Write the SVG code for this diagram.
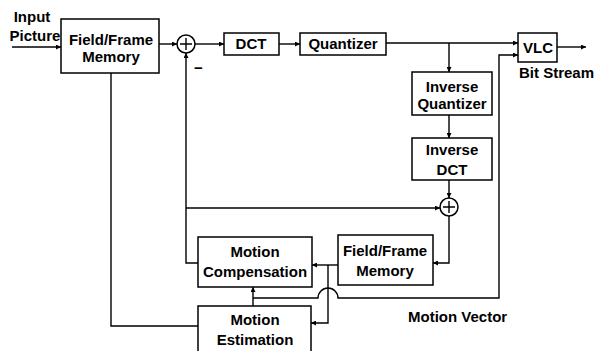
<svg xmlns="http://www.w3.org/2000/svg" width="594" height="351" viewBox="0 0 594 351">
<style>
.box{fill:#fff;stroke:#000;stroke-width:1.5}
.ln{fill:none;stroke:#000;stroke-width:1.4}
.ar{fill:none;stroke:#000;stroke-width:1.4;marker-end:url(#ah)}
text{font-family:"Liberation Sans",Arial,sans-serif;font-weight:bold;font-size:15px;fill:#000}
.c{text-anchor:middle}
</style>
<defs>
<marker id="ah" viewBox="0 0 10 10" refX="10" refY="5" markerWidth="5" markerHeight="5" markerUnits="userSpaceOnUse" orient="auto">
<path d="M0,0 L10,5 L0,10 z" fill="#000"/>
</marker>
</defs>
<rect width="594" height="351" fill="#fff"/>
<g id="connectors">
<path class="ar" d="M12,47 H61"/>
<path class="ar" d="M159,44 H177"/>
<path class="ar" d="M195,44 H224"/>
<path class="ar" d="M279,44 H300"/>
<path class="ar" d="M386,43 H518"/>
<path class="ar" d="M449,43 V72"/>
<path class="ar" d="M557,47 H586"/>
<path class="ar" d="M449,115 V138"/>
<path class="ar" d="M449,180 V198"/>
<path class="ar" d="M449,216 V263 H433"/>
<path class="ar" d="M338,265 H312"/>
<path class="ar" d="M328,265 V323 H311"/>
<path class="ar" d="M198,263 H186 V53"/>
<path class="ar" d="M186,208 H440"/>
<path class="ar" d="M253,306 V287"/>
<path class="ar" d="M253,298 H318 A10,10 0 0 1 338,298 H499 V55 H518"/>
<path class="ln" d="M111,73 V326 H198"/>
</g>
<g id="input-label">
<text class="c" x="32" y="22">Input</text>
<text class="c" x="35" y="41">Picture</text>
</g>
<g id="ffm1">
<rect class="box" x="61" y="19" width="98" height="54"/>
<text class="c" x="111" y="45">Field/Frame</text>
<text class="c" x="111" y="62">Memory</text>
</g>
<g id="sum1">
<circle class="box" cx="186" cy="44" r="9"/>
<path class="ln" d="M180,44 H192 M186,38 V50"/>
<text x="194" y="73">−</text>
</g>
<g id="dct">
<rect class="box" x="224" y="33" width="55" height="22"/>
<text class="c" x="251" y="49">DCT</text>
</g>
<g id="quantizer">
<rect class="box" x="300" y="33" width="86" height="22"/>
<text class="c" x="343" y="49">Quantizer</text>
</g>
<g id="vlc">
<rect class="box" x="518" y="33" width="39" height="29"/>
<text class="c" x="538" y="53">VLC</text>
<text x="519" y="78">Bit Stream</text>
</g>
<g id="iq">
<rect class="box" x="412" y="72" width="80" height="43"/>
<text class="c" x="452" y="92">Inverse</text>
<text class="c" x="452" y="109">Quantizer</text>
</g>
<g id="idct">
<rect class="box" x="412" y="138" width="80" height="42"/>
<text class="c" x="452" y="155">Inverse</text>
<text class="c" x="452" y="175">DCT</text>
</g>
<g id="sum2">
<circle class="box" cx="449" cy="207" r="9"/>
<path class="ln" d="M443,207 H455 M449,201 V213"/>
</g>
<g id="ffm2">
<rect class="box" x="338" y="235" width="95" height="50"/>
<text class="c" x="385" y="256">Field/Frame</text>
<text class="c" x="385" y="276">Memory</text>
</g>
<g id="mc">
<rect class="box" x="198" y="237" width="114" height="50"/>
<text class="c" x="255" y="257">Motion</text>
<text class="c" x="255" y="277">Compensation</text>
</g>
<g id="me">
<rect class="box" x="198" y="306" width="113" height="60"/>
<text class="c" x="255" y="325">Motion</text>
<text class="c" x="255" y="345">Estimation</text>
</g>
<g id="mv-label">
<text x="408" y="322">Motion Vector</text>
</g>
</svg>
